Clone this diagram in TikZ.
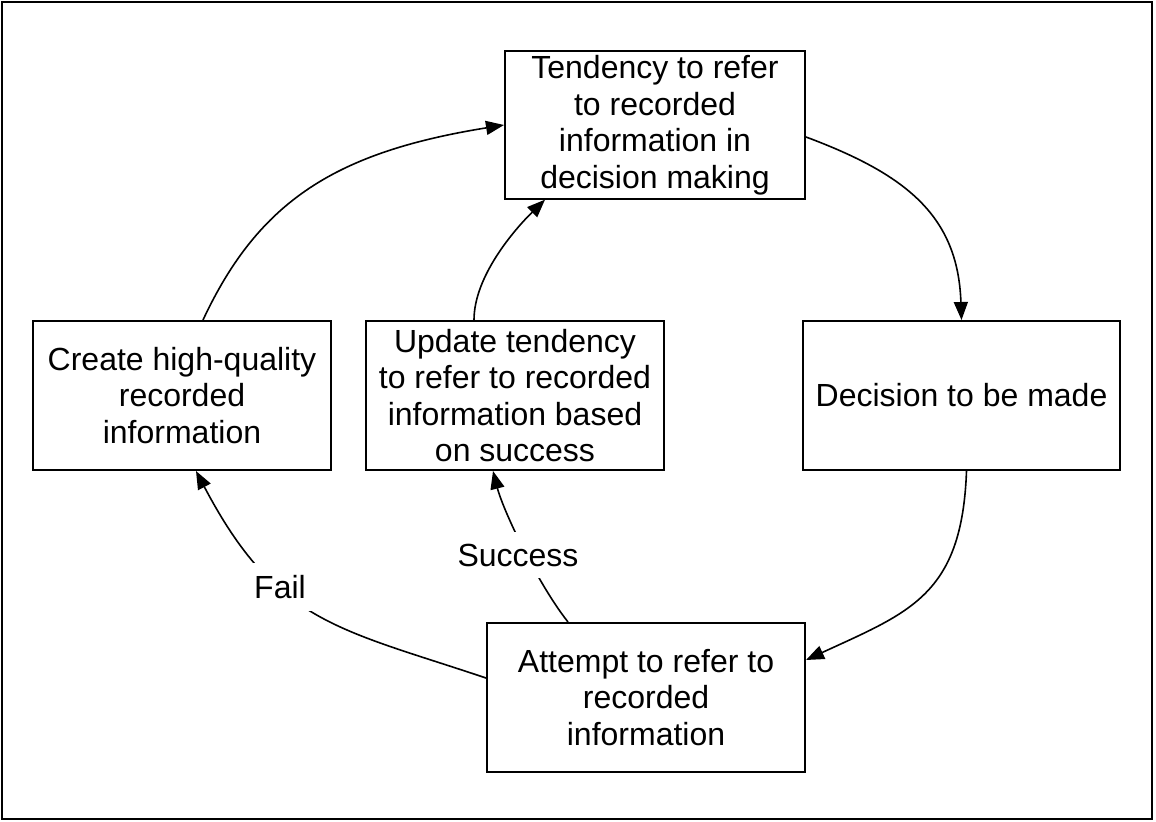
\documentclass[tikz,border=0pt]{standalone}
\usepackage{fontspec}
\setmainfont{Liberation Sans}
\usepackage{tikz}
\usetikzlibrary{arrows.meta,calc}
\tikzset{
  >={Triangle[length=9pt,width=7pt]},
  every node/.style={font=\fontsize{16}{18.25}\selectfont},
  box/.style={draw=black,line width=1pt,fill=white,align=center,inner sep=2pt,minimum height=74.5pt},
}
\begin{document}
\begin{tikzpicture}[x=0.5pt,y=-0.5pt,
  arr/.style={->,black,line width=0.8pt},
  lbl/.style={fill=white,inner xsep=3pt,inner ysep=6pt}]
  \useasboundingbox (0,0) rectangle (1156,822);
  \draw[line width=1pt] (1.5,2.5) rectangle (1152,819);
  \node[box,minimum width=150pt,minimum height=73pt] (tend) at (655,125) {Tendency to refer\\to recorded\\information in\\decision making};
  \node[box,minimum width=158.5pt] (dec) at (961.5,395.5) {Decision to be made};
  \node[box,minimum width=159pt] (att) at (646,697.5) {Attempt to refer to\\recorded\\information};
  \node[box,minimum width=149pt] (crt) at (182,395.5) {Create high-quality\\recorded\\information};
  \node[box,minimum width=149pt] (upd) at (515,395.5) {Update tendency\\to refer to recorded\\information based\\on success};
  \draw[arr] ([xshift=10.5pt]crt.north) .. controls (259,200) and (337,152) .. (tend.west);
  \draw[arr] ([yshift=-6pt]tend.east) .. controls (905,174) and (958,215) .. (dec.north);
  \draw[arr] ([xshift=2.5pt]dec.south) .. controls (962,595) and (910,612) .. ([yshift=18.75pt]att.east);
  \draw[arr] ([yshift=9.75pt]att.west) .. controls (337,628) and (276,623) .. node[lbl,pos=0.64] (fail) {Fail} ([xshift=7pt]crt.south);
  \draw[arr] ([xshift=-39pt]att.north) .. controls (537.5,583.5) and (503,510) .. node[lbl,pos=0.45,xshift=-4.5pt] (succ) {Success} ([xshift=-11pt]upd.south);
  \draw[arr] ([xshift=-20.5pt]upd.north) .. controls (474,276) and (515,229) .. ([xshift=-55pt]tend.south);
\end{tikzpicture}
\end{document}
